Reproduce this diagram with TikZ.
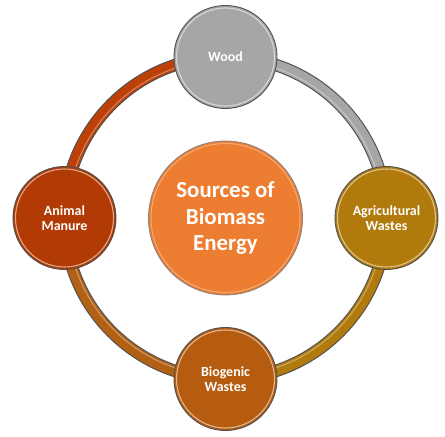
\documentclass[tikz,border=0pt]{standalone}
\usepackage{fontspec}
\setmainfont{Carlito}
\usetikzlibrary{backgrounds,calc}
\definecolor{edgec}{RGB}{80,80,80}
\definecolor{woodc}{RGB}{166,166,166}
\definecolor{agric}{RGB}{176,122,12}
\definecolor{bioc}{RGB}{182,92,16}
\definecolor{manc}{RGB}{178,58,4}
\definecolor{hubc}{RGB}{237,125,49}
\definecolor{bioarc}{RGB}{178,96,20}
\definecolor{manarc}{RGB}{188,64,8}
\begin{document}
\begin{tikzpicture}[x=1bp,y=1bp,
  bubble/.style={circle, draw=edgec, line width=0.9bp, minimum size=103bp, inner sep=0pt,
    text=white, align=center, font=\bfseries\fontsize{14}{15.5}\selectfont},
  hub/.style={circle, draw=edgec!70, line width=0.8bp, minimum size=154bp, inner sep=0pt,
    fill=hubc, text=white, align=center, font=\bfseries\fontsize{23}{27}\selectfont},
  bandout/.style={line width=12.5bp, draw=edgec},
  bandin/.style={line width=10.3bp},
  shine/.style={line width=1.1bp, white, opacity=0.35}]
\useasboundingbox (0,0) rectangle (445,437);
\coordinate (c) at (225.5,219);
\node[bubble, fill=woodc] (wood) at (225.5,380) {Wood};
\node[bubble, fill=agric] (agri) at (386.5,219) {Agricultural\\Wastes};
\node[bubble, fill=bioc] (bio) at (225.5,58) {Biogenic\\Wastes};
\node[bubble, fill=manc] (manure) at (64.5,219) {Animal\\Manure};
\node[hub] (hub) at (c) {Sources of\\Biomass\\Energy};
\foreach \n in {wood,agri,bio,manure}
  \draw[white, opacity=0.55, line width=1.1bp] (\n.center) circle[radius=49];
\draw[white, opacity=0.35, line width=1bp] (hub.center) circle[radius=74.5];
\begin{scope}[on background layer]
\foreach \n/\a/\b/\col in {wood/90/0/woodc, agri/0/-90/agric, bio/-90/-180/bioarc, manure/180/90/manarc} {
  \draw[bandout] (\n.center) arc[start angle=\a, end angle=\b, radius=161];
  \draw[bandin, \col] (\n.center) arc[start angle=\a, end angle=\b, radius=161];
  \draw[shine] ($(c)+(\a:158)$) arc[start angle=\a, end angle=\b, radius=158];
}
\end{scope}
\end{tikzpicture}
\end{document}
